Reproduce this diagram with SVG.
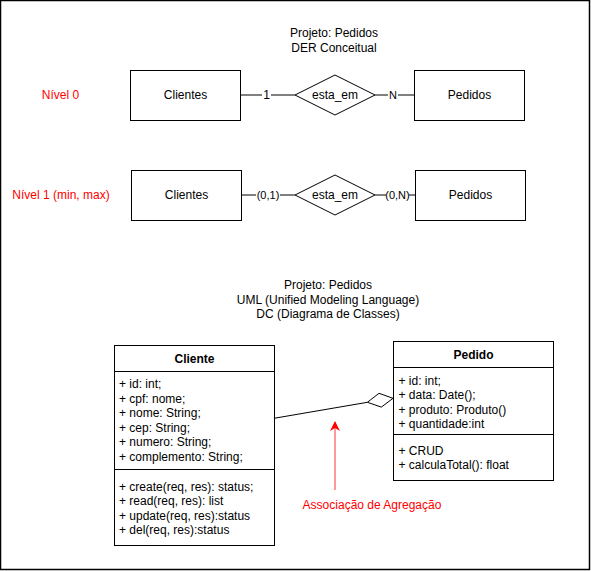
<svg xmlns="http://www.w3.org/2000/svg" width="591" height="571" viewBox="0 0 591 571">
<style>
text{font-family:"Liberation Sans",Arial,sans-serif;font-size:12px;fill:#000}
.c{text-anchor:middle}
.red{fill:#FF0000}
.b{font-weight:bold}
.lbl{font-size:11px}
.box{fill:#fff;stroke:#000;stroke-width:1}
.ln{fill:none;stroke:#000;stroke-width:1}
.bg{fill:#fff;stroke:none}
</style>
<defs>
<marker id="ra" markerWidth="10" markerHeight="10" refX="9" refY="5" orient="auto" markerUnits="userSpaceOnUse">
<path d="M0,0 L10,5 L0,10 L3,5 Z" fill="#FF0000"/>
</marker>
</defs>
<rect x="0.5" y="0.5" width="589" height="569" fill="#fff" stroke="#000" stroke-width="1.5"/>

<g id="titles">
<text class="c" x="334" y="37">Projeto: Pedidos</text>
<text class="c" x="334" y="51.5">DER Conceitual</text>
<text class="c red" x="60.5" y="98.5">Nível 0</text>
<text class="c red" x="61" y="198.5">Nível 1 (min, max)</text>
<text class="c" x="328" y="289">Projeto: Pedidos</text>
<text class="c" x="328" y="303.5">UML (Unified Modeling Language)</text>
<text class="c" x="328" y="318">DC (Diagrama de Classes)</text>
</g>

<g id="connectors">
<line class="ln" x1="240" y1="95" x2="295" y2="95"/>
<rect class="bg" x="262" y="89" width="9" height="12"/>
<text class="c" x="266.7" y="99">1</text>
<line class="ln" x1="375" y1="95" x2="414" y2="95"/>
<rect class="bg" x="388" y="89" width="10" height="12"/>
<text class="c lbl" x="393" y="99">N</text>
<line class="ln" x1="241" y1="195" x2="295" y2="195"/>
<rect class="bg" x="256" y="189" width="24" height="12"/>
<text class="c lbl" x="268" y="199">(0,1)</text>
<line class="ln" x1="375" y1="195" x2="415" y2="195"/>
<rect class="bg" x="386" y="189" width="23" height="12"/>
<text class="c lbl" x="397.5" y="199">(0,N)</text>
<line class="ln" x1="274" y1="418.3" x2="367.4" y2="402.3"/>
<path class="ln" d="M393,398.3 L381.4,407.1 L367.4,402.3 L379,393.3 Z" fill="#fff"/>
</g>

<g id="clientes0">
<rect class="box" x="130.5" y="70.5" width="110" height="50"/>
<text class="c" x="185.5" y="99">Clientes</text>
</g>
<g id="rel0">
<path class="box" d="M295,95 L335,75 L375,95 L335,115 Z"/>
<text class="c" x="335" y="99">esta_em</text>
</g>
<g id="pedidos0">
<rect class="box" x="414.5" y="70.5" width="110" height="50"/>
<text class="c" x="469.5" y="99">Pedidos</text>
</g>

<g id="clientes1">
<rect class="box" x="131.5" y="170.5" width="110" height="50"/>
<text class="c" x="186.5" y="199">Clientes</text>
</g>
<g id="rel1">
<path class="box" d="M295,195 L335,175 L375,195 L335,215 Z"/>
<text class="c" x="335" y="199">esta_em</text>
</g>
<g id="pedidos1">
<rect class="box" x="415.5" y="170.5" width="110" height="50"/>
<text class="c" x="470.5" y="199">Pedidos</text>
</g>

<g id="cliente">
<rect class="box" x="114.5" y="345.5" width="160" height="200"/>
<line class="ln" x1="114.5" y1="371.5" x2="274.5" y2="371.5"/>
<line class="ln" x1="114.5" y1="469.5" x2="274.5" y2="469.5"/>
<text class="c b" x="194.5" y="362.5">Cliente</text>
<text x="119" y="388">+ id: int;</text>
<text x="119" y="402.5">+ cpf: nome;</text>
<text x="119" y="417">+ nome: String;</text>
<text x="119" y="431.5">+ cep: String;</text>
<text x="119" y="446">+ numero: String;</text>
<text x="119" y="460.5">+ complemento: String;</text>
<text x="119" y="490.5">+ create(req, res): status;</text>
<text x="119" y="505">+ read(req, res): list</text>
<text x="119" y="519.5">+ update(req, res):status</text>
<text x="119" y="534">+ del(req, res):status</text>
</g>

<g id="pedido">
<rect class="box" x="393.5" y="341.5" width="160" height="139"/>
<line class="ln" x1="393.5" y1="367.5" x2="553.5" y2="367.5"/>
<line class="ln" x1="393.5" y1="434.5" x2="553.5" y2="434.5"/>
<text class="c b" x="473.5" y="358.5">Pedido</text>
<text x="398.5" y="384.5">+ id: int;</text>
<text x="398.5" y="399">+ data: Date();</text>
<text x="398.5" y="413.5">+ produto: Produto()</text>
<text x="398.5" y="428">+ quantidade:int</text>
<text x="398.5" y="454.5">+ CRUD</text>
<text x="398.5" y="469">+ calculaTotal(): float</text>
</g>

<g id="nota">
<line x1="335" y1="490" x2="335" y2="422" stroke="#FF3333" stroke-width="1" marker-end="url(#ra)"/>
<text class="c red" x="372" y="508.5">Associação de Agregação</text>
</g>
</svg>
